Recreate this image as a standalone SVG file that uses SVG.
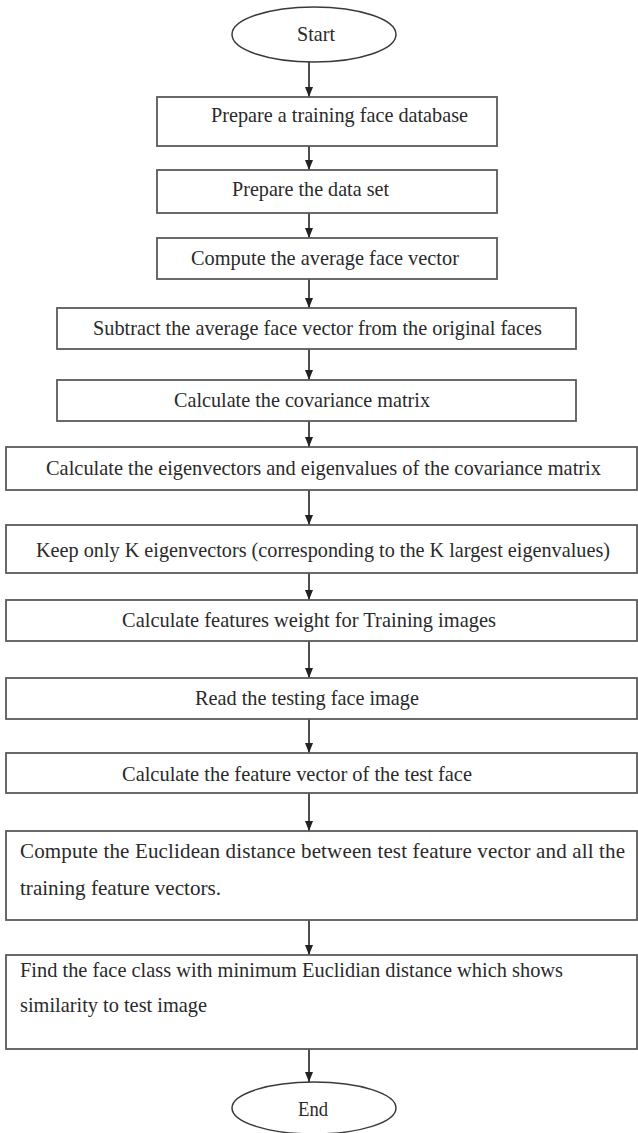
<svg xmlns="http://www.w3.org/2000/svg" width="638" height="1133" viewBox="0 0 638 1133">
<style>
.box{fill:#fff;stroke:#5a5a5a;stroke-width:1.8}
.term{fill:#fff;stroke:#3a3a3a;stroke-width:1.5}
.t{font-family:"Liberation Serif","Times New Roman",serif;font-size:21px;fill:#2a2a2a}
.c{stroke:#222;stroke-width:1.6;fill:none;marker-end:url(#ah)}
</style>
<defs>
<marker id="ah" markerUnits="userSpaceOnUse" viewBox="0 0 10 8" markerWidth="10" markerHeight="8" refX="10" refY="4" orient="auto">
<path d="M0,0 L10,4 L0,8 z" fill="#222"/>
</marker>
</defs>
<rect width="638" height="1133" fill="#fff"/>
<g id="connectors">
<line class="c" x1="309" y1="62" x2="309" y2="97"/>
<line class="c" x1="309" y1="146" x2="309" y2="170"/>
<line class="c" x1="309" y1="213" x2="309" y2="238"/>
<line class="c" x1="309" y1="279" x2="309" y2="308"/>
<line class="c" x1="309" y1="349" x2="309" y2="380"/>
<line class="c" x1="309" y1="421" x2="309" y2="447"/>
<line class="c" x1="309" y1="490" x2="309" y2="525"/>
<line class="c" x1="309" y1="573" x2="309" y2="600"/>
<line class="c" x1="309" y1="641" x2="309" y2="678"/>
<line class="c" x1="309" y1="719" x2="309" y2="753"/>
<line class="c" x1="309" y1="793" x2="309" y2="831"/>
<line class="c" x1="309" y1="920" x2="309" y2="955"/>
<line class="c" x1="309" y1="1049" x2="309" y2="1082"/>
</g>
<g id="start">
<ellipse class="term" cx="314" cy="34.5" rx="82" ry="27.5"/>
<text class="t" x="297" y="41" textLength="38" lengthAdjust="spacingAndGlyphs">Start</text>
</g>
<g id="n1">
<rect class="box" x="157" y="97" width="340" height="49"/>
<text class="t" x="211" y="122" textLength="257" lengthAdjust="spacingAndGlyphs">Prepare a training face database</text>
</g>
<g id="n2">
<rect class="box" x="157" y="170" width="340" height="43"/>
<text class="t" x="232" y="196" textLength="157" lengthAdjust="spacingAndGlyphs">Prepare the data set</text>
</g>
<g id="n3">
<rect class="box" x="157" y="238" width="340" height="41"/>
<text class="t" x="191" y="265" textLength="268" lengthAdjust="spacingAndGlyphs">Compute the average face vector</text>
</g>
<g id="n4">
<rect class="box" x="57" y="308" width="519" height="41"/>
<text class="t" x="93" y="335" textLength="449" lengthAdjust="spacingAndGlyphs">Subtract the average face vector from the original faces</text>
</g>
<g id="n5">
<rect class="box" x="57" y="380" width="519" height="41"/>
<text class="t" x="174" y="407" textLength="256" lengthAdjust="spacingAndGlyphs">Calculate the covariance matrix</text>
</g>
<g id="n6">
<rect class="box" x="6" y="447" width="631" height="43"/>
<text class="t" x="46" y="475" textLength="555" lengthAdjust="spacingAndGlyphs">Calculate the eigenvectors and eigenvalues of the covariance matrix</text>
</g>
<g id="n7">
<rect class="box" x="6" y="525" width="631" height="48"/>
<text class="t" x="36" y="557" textLength="574" lengthAdjust="spacingAndGlyphs">Keep only K eigenvectors (corresponding to the K largest eigenvalues)</text>
</g>
<g id="n8">
<rect class="box" x="6" y="600" width="631" height="41"/>
<text class="t" x="122" y="627" textLength="374" lengthAdjust="spacingAndGlyphs">Calculate features weight for Training images</text>
</g>
<g id="n9">
<rect class="box" x="6" y="678" width="631" height="41"/>
<text class="t" x="195" y="705" textLength="224" lengthAdjust="spacingAndGlyphs">Read the testing face image</text>
</g>
<g id="n10">
<rect class="box" x="6" y="753" width="631" height="40"/>
<text class="t" x="122" y="781" textLength="350" lengthAdjust="spacingAndGlyphs">Calculate the feature vector of the test face</text>
</g>
<g id="n11">
<rect class="box" x="6" y="831" width="631" height="89"/>
<text class="t" x="20" y="858" textLength="605" lengthAdjust="spacing">Compute the Euclidean distance between test feature vector and all the</text>
<text class="t" x="20" y="895" textLength="201" lengthAdjust="spacingAndGlyphs">training feature vectors.</text>
</g>
<g id="n12">
<rect class="box" x="6" y="955" width="631" height="94"/>
<text class="t" x="20" y="977" textLength="543" lengthAdjust="spacingAndGlyphs">Find the face class with minimum Euclidian distance which shows</text>
<text class="t" x="20" y="1012" textLength="187" lengthAdjust="spacingAndGlyphs">similarity to test image</text>
</g>
<g id="end">
<ellipse class="term" cx="314" cy="1108" rx="82" ry="26"/>
<text class="t" x="298" y="1116" textLength="30" lengthAdjust="spacingAndGlyphs">End</text>
</g>
</svg>
